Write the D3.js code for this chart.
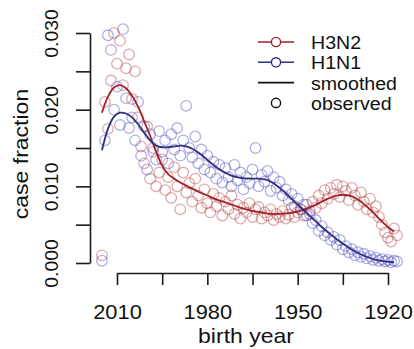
<!DOCTYPE html>
<html>
<head>
<meta charset="utf-8">
<script src="https://cdn.jsdelivr.net/npm/d3@7/dist/d3.min.js"></script>
<style>
  body { margin: 0; background: #fff; }
  text { font-family: "Liberation Sans", Arial, Helvetica, sans-serif; fill: #111; }
</style>
</head>
<body>
<svg id="chart" width="414" height="349"></svg>
<script>
// observed case fractions, one per birth year from 2015 down to 1917
const years = d3.range(2015, 1916, -1);

const h3n2Observed = [
  0.0010, 0.0210, 0.0175, 0.0238, 0.0300, 0.0260, 0.0290, 0.0232, 0.0254, 0.0272,
  0.0214, 0.0250, 0.0190, 0.0152, 0.0130, 0.0178, 0.0110, 0.0145, 0.0100, 0.0118,
  0.0135, 0.0095, 0.0112, 0.0085, 0.0125, 0.0100, 0.0070, 0.0118, 0.0092, 0.0104,
  0.0080, 0.0110, 0.0088, 0.0072, 0.0096, 0.0078, 0.0066, 0.0090, 0.0074, 0.0085,
  0.0062, 0.0080, 0.0070, 0.0088, 0.0064, 0.0076, 0.0058, 0.0072, 0.0066, 0.0078,
  0.0060, 0.0070, 0.0073, 0.0058, 0.0066, 0.0062, 0.0070, 0.0056, 0.0064, 0.0060,
  0.0068, 0.0058, 0.0063, 0.0072, 0.0060, 0.0066, 0.0070, 0.0062, 0.0076, 0.0068,
  0.0080, 0.0072, 0.0088, 0.0078, 0.0095, 0.0084, 0.0098, 0.0090, 0.0102, 0.0086,
  0.0100, 0.0094, 0.0082, 0.0098, 0.0088, 0.0076, 0.0092, 0.0080, 0.0070, 0.0084,
  0.0066, 0.0074, 0.0060, 0.0050, 0.0040, 0.0033, 0.0028, 0.0045, 0.0036
];

const h1n1Observed = [
  0.0003, 0.0160, 0.0297, 0.0278, 0.0200, 0.0230, 0.0180, 0.0305, 0.0215, 0.0176,
  0.0190, 0.0160, 0.0210, 0.0140, 0.0178, 0.0122, 0.0168, 0.0150, 0.0135, 0.0172,
  0.0145, 0.0160, 0.0130, 0.0168, 0.0148, 0.0176, 0.0140, 0.0160, 0.0205, 0.0150,
  0.0138, 0.0165, 0.0130, 0.0148, 0.0122, 0.0140, 0.0118, 0.0132, 0.0110, 0.0128,
  0.0105, 0.0124, 0.0112, 0.0100, 0.0128, 0.0108, 0.0118, 0.0096, 0.0112, 0.0104,
  0.0122, 0.0150, 0.0100, 0.0115, 0.0106, 0.0120, 0.0094, 0.0112, 0.0098, 0.0106,
  0.0088, 0.0096, 0.0082, 0.0090, 0.0074, 0.0084, 0.0070, 0.0076, 0.0062, 0.0064,
  0.0052, 0.0056, 0.0042, 0.0048, 0.0036, 0.0040, 0.0030, 0.0034, 0.0024, 0.0030,
  0.0018, 0.0022, 0.0014, 0.0018, 0.0010, 0.0014, 0.0008, 0.0012, 0.0006, 0.0009,
  0.0004, 0.0007, 0.0003, 0.0005, 0.0002, 0.0004, 0.0001, 0.0003, 0.0002
];

// smoothed curves
const h3n2SmoothYears = [2015, 2013, 2011, 2009, 2007, 2005, 2003, 2001, 1999, 1997, 1995, 1993,
  1991, 1989, 1986, 1983, 1980, 1977, 1974, 1971, 1968, 1965, 1962, 1959, 1956, 1953, 1950,
  1947, 1944, 1941, 1938, 1935, 1932, 1929, 1926, 1923, 1920, 1918];
const h3n2Smooth = [0.0196, 0.0217, 0.0229, 0.0232, 0.0228, 0.0218, 0.0204, 0.0185, 0.0166,
  0.0145, 0.0127, 0.0116, 0.0110, 0.0105, 0.0099, 0.0093, 0.0088, 0.0083, 0.0079, 0.0075,
  0.0071, 0.0068, 0.0066, 0.0064, 0.0064, 0.0065, 0.0067, 0.0071, 0.0076, 0.0082, 0.0087,
  0.0089, 0.0087, 0.0080, 0.0070, 0.0058, 0.0047, 0.0041];

const h1n1SmoothYears = [2015, 2013, 2011, 2009, 2007, 2005, 2003, 2001, 1999, 1997, 1995, 1993,
  1991, 1989, 1987, 1985, 1983, 1981, 1979, 1977, 1975, 1972, 1969, 1966, 1963, 1960, 1957,
  1954, 1951, 1948, 1945, 1942, 1939, 1936, 1933, 1930, 1927, 1924, 1921, 1918];
const h1n1Smooth = [0.0147, 0.0175, 0.0191, 0.0196, 0.0195, 0.0190, 0.0181, 0.0170, 0.0160,
  0.0153, 0.0151, 0.0151, 0.0152, 0.0153, 0.0152, 0.0149, 0.0144, 0.0138, 0.0131, 0.0125,
  0.0120, 0.0114, 0.0111, 0.0110, 0.0110, 0.0108, 0.0101, 0.0091, 0.0080, 0.0069, 0.0058,
  0.0047, 0.0037, 0.0028, 0.0020, 0.0013, 0.0008, 0.0004, 0.0002, 0.0001];

const xTicks = [2010, 1995, 1980, 1965, 1950, 1935, 1920];
const xLabels = [2010, 1980, 1950, 1920];
const yTicks = [0, 0.005, 0.010, 0.015, 0.020, 0.025, 0.030];
const yLabels = [0, 0.010, 0.020, 0.030];

const legendItems = ['H3N2', 'H1N1', 'smoothed', 'observed'];

const red = '#a3202a';
const blue = '#2c3081';
const redPt = 'rgba(185, 70, 70, 0.45)';
const bluePt = 'rgba(70, 70, 185, 0.42)';

const svg = d3.select('#chart');

const x = d3.scaleLinear().domain([2010, 1920]).range([117, 388]);
const y = d3.scaleLinear().domain([0, 0.03]).range([263, 33]);

// observed points
const drawPoints = (vals, color) => {
  svg.append('g')
    .selectAll('circle')
    .data(vals)
    .enter()
    .append('circle')
    .attr('cx', (d, i) => x(years[i]))
    .attr('cy', d => y(d))
    .attr('r', 5.3)
    .attr('fill', 'none')
    .attr('stroke', color)
    .attr('stroke-width', 1.3);
};
drawPoints(h3n2Observed, redPt);
drawPoints(h1n1Observed, bluePt);

// smoothed lines
const line = d3.line().curve(d3.curveCatmullRom.alpha(0.5));
const drawSmooth = (yrs, vals, color) => {
  svg.append('path')
    .attr('d', line(yrs.map((yr, i) => [x(yr), y(vals[i])])))
    .attr('fill', 'none')
    .attr('stroke', color)
    .attr('stroke-width', 1.8);
};
drawSmooth(h3n2SmoothYears, h3n2Smooth, red);
drawSmooth(h1n1SmoothYears, h1n1Smooth, blue);

// axes
const xAxis = d3.axisBottom(x)
  .tickValues(xTicks)
  .tickSizeInner(12)
  .tickSizeOuter(0)
  .tickFormat(d => xLabels.includes(d) ? d : '');

const gx = svg.append('g')
  .attr('transform', 'translate(0,273)')
  .call(xAxis);
gx.selectAll('text')
  .attr('y', 0)
  .attr('dy', 0)
  .attr('transform', 'translate(0,46) scale(1.12,1)')
  .style('font-size', '19.5px')
  .attr('fill', '#111');

const yAxis = d3.axisLeft(y)
  .tickValues(yTicks)
  .tickSizeInner(14)
  .tickSizeOuter(0)
  .tickFormat(d => yLabels.some(v => Math.abs(v - d) < 1e-9) ? d3.format('.3f')(d) : '');

const gy = svg.append('g')
  .attr('transform', 'translate(90,0)')
  .call(yAxis);
gy.selectAll('text')
  .attr('x', 0)
  .attr('dy', 0)
  .attr('text-anchor', 'middle')
  .attr('transform', 'translate(-32,0) rotate(-90) scale(1.08,1)')
  .style('font-size', '18px')
  .attr('fill', '#111');

svg.selectAll('.domain, .tick line')
  .attr('stroke', '#1a1a1a')
  .attr('stroke-width', 1.6);

// axis titles
svg.append('text')
  .attr('text-anchor', 'middle')
  .attr('transform', 'translate(246,343) scale(1.15,1)')
  .style('font-size', '20px')
  .text('birth year');

svg.append('text')
  .attr('text-anchor', 'middle')
  .attr('transform', 'translate(28,154) rotate(-90) scale(1.15,1)')
  .style('font-size', '20px')
  .text('case fraction');

// legend
const legend = svg.append('g').attr('transform', 'translate(258,42)');
legendItems.forEach((label, i) => {
  const row = legend.append('g').attr('transform', `translate(0,${i * 20.3})`);
  const col = i === 0 ? red : i === 1 ? blue : '#111';
  if (i < 3) {
    row.append('line')
      .attr('x1', 0).attr('x2', 36)
      .attr('stroke', col)
      .attr('stroke-width', 1.6);
  }
  if (i !== 2) {
    row.append('circle')
      .attr('cx', 18).attr('r', 4.6)
      .attr('fill', i === 3 ? 'none' : '#fff')
      .attr('stroke', col)
      .attr('stroke-width', 1.4);
  }
  row.append('text')
    .attr('transform', 'translate(53,7) scale(1.12,1)')
    .style('font-size', '17.5px')
    .text(label);
});
</script>
</body>
</html>
